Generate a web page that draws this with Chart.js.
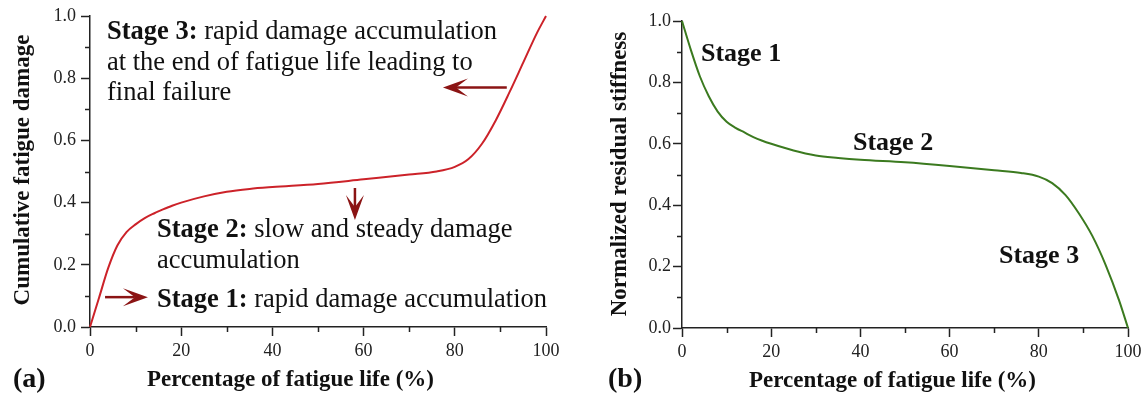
<!DOCTYPE html>
<html>
<head>
<meta charset="utf-8">
<script src="https://cdn.jsdelivr.net/npm/chart.js@4.4.1/dist/chart.umd.min.js"></script>
<style>
  html, body { margin: 0; padding: 0; background: #fff; }
  .panel { position: absolute; top: 0; width: 574px; height: 401px; }
</style>
</head>
<body>
<div class="panel" style="left:0"><canvas id="damageChart" width="574" height="401"></canvas></div>
<div class="panel" style="left:574px"><canvas id="stiffChart" width="574" height="401"></canvas></div>
<script>
// values
const lifePct   = [0, 2, 4, 6, 8, 10, 12, 14, 16, 18, 20, 25, 30, 35, 40, 50, 60, 70, 76, 80, 83, 86, 89, 92, 95, 98, 100];
const damage    = [0, 0.095, 0.19, 0.262, 0.305, 0.33, 0.35, 0.365, 0.378, 0.39, 0.40, 0.42, 0.435, 0.444, 0.45, 0.46, 0.475, 0.49, 0.50, 0.515, 0.54, 0.59, 0.665, 0.755, 0.85, 0.945, 1.0];
const stiffness = [1.0, 0.905, 0.82, 0.755, 0.705, 0.672, 0.652, 0.637, 0.622, 0.61, 0.60, 0.578, 0.562, 0.554, 0.548, 0.54, 0.528, 0.514, 0.505, 0.493, 0.472, 0.433, 0.373, 0.30, 0.205, 0.09, 0.0];

const xMinor = [10, 30, 50, 70, 90];
const yMinor = [0.1, 0.3, 0.5, 0.7, 0.9];

// arrows on panel (a), in data units: [x0, y0, x1, y1]
const damageArrows = [
  [91.4, 0.77, 77.4, 0.77],
  [58.1, 0.447, 58.1, 0.344],
  [3.3, 0.096, 12.7, 0.096]
];

const SERIF = "'Liberation Serif', 'Times New Roman', serif";
const INK = "#111";
const AXIS = "#222";

function pts(ys) {
  return lifePct.map((x, i) => ({ x: x, y: ys[i] }));
}

// draws the short minor ticks that Chart.js has no option for
const minorTicks = {
  id: "minorTicks",
  afterDraw(chart) {
    const { ctx, chartArea, scales } = chart;
    ctx.save();
    ctx.strokeStyle = AXIS;
    ctx.lineWidth = 1.5;
    ctx.beginPath();
    xMinor.forEach(v => {
      const px = Math.round(scales.x.getPixelForValue(v)) + 0.5;
      ctx.moveTo(px, chartArea.bottom);
      ctx.lineTo(px, chartArea.bottom + 5);
    });
    yMinor.forEach(v => {
      const py = Math.round(scales.y.getPixelForValue(v)) + 0.5;
      ctx.moveTo(chartArea.left - 5, py);
      ctx.lineTo(chartArea.left, py);
    });
    ctx.stroke();
    ctx.restore();
  }
};

// text runs: each line is a list of [text, bold]
function drawRuns(ctx, x, y, runs, size) {
  let cx = x;
  runs.forEach(([t, bold]) => {
    ctx.font = (bold ? "bold " : "") + size + "px " + SERIF;
    ctx.fillText(t, cx, y);
    cx += ctx.measureText(t).width;
  });
}

const labelsPlugin = {
  id: "labels",
  afterDraw(chart) {
    const o = chart.options.plugins.labels;
    const ctx = chart.ctx;
    ctx.save();
    ctx.fillStyle = INK;
    ctx.textBaseline = "alphabetic";
    ctx.textAlign = "left";
    o.notes.forEach(n => {
      n.lines.forEach((line, i) => drawRuns(ctx, n.x, n.y + i * n.gap, line, n.size));
    });
    // panel letter and x title
    drawRuns(ctx, o.letter.x, o.letter.y, [[o.letter.text, true]], 28);
    drawRuns(ctx, o.xTitle.x, o.xTitle.y, [[o.xTitle.text, true]], 23);
    // rotated y title
    ctx.translate(o.yTitle.x, o.yTitle.y);
    ctx.rotate(-Math.PI / 2);
    ctx.textAlign = "center";
    ctx.font = "bold 23px " + SERIF;
    ctx.fillText(o.yTitle.text, 0, 0);
    ctx.restore();
  }
};

const arrowsPlugin = {
  id: "arrows",
  afterDatasetsDraw(chart) {
    const list = chart.options.plugins.arrows.list;
    if (!list) return;
    const { ctx, scales } = chart;
    ctx.save();
    ctx.strokeStyle = "#8b1414";
    ctx.fillStyle = "#8b1414";
    ctx.lineWidth = 2.5;
    list.forEach(([x0, y0, x1, y1]) => {
      const ax = scales.x.getPixelForValue(x0), ay = scales.y.getPixelForValue(y0);
      const bx = scales.x.getPixelForValue(x1), by = scales.y.getPixelForValue(y1);
      const len = Math.hypot(bx - ax, by - ay);
      const ux = (bx - ax) / len, uy = (by - ay) / len;
      const head = 25, half = 9, notch = 13;
      ctx.beginPath();
      ctx.moveTo(ax, ay);
      ctx.lineTo(bx - ux * notch, by - uy * notch);
      ctx.stroke();
      ctx.beginPath();
      ctx.moveTo(bx, by);
      ctx.lineTo(bx - ux * head - uy * half, by - uy * head + ux * half);
      ctx.lineTo(bx - ux * notch, by - uy * notch);
      ctx.lineTo(bx - ux * head + uy * half, by - uy * head - ux * half);
      ctx.closePath();
      ctx.fill();
    });
    ctx.restore();
  }
};

function axisOpts(kind, fit, pad) {
  const isX = kind === "x";
  return {
    type: "linear",
    min: 0,
    max: isX ? 100 : 1,
    afterFit: s => { if (isX) s.height = fit; else s.width = fit; },
    border: { display: true, color: AXIS, width: 1.5 },
    grid: { display: true, drawOnChartArea: false, drawTicks: true, tickLength: 9, tickColor: AXIS, tickWidth: 1.5 },
    ticks: {
      stepSize: isX ? 20 : 0.2,
      padding: pad,
      color: AXIS,
      maxRotation: 0,
      font: { family: SERIF, size: 18 },
      callback: v => isX ? String(v) : v.toFixed(1)
    }
  };
}

function makeChart(id, ys, color, layout, extras) {
  return new Chart(document.getElementById(id), {
    type: "line",
    data: {
      datasets: [{
        data: pts(ys),
        borderColor: color,
        borderWidth: 2,
        pointRadius: 0,
        cubicInterpolationMode: "monotone",
        fill: false,
        clip: false
      }]
    },
    options: {
      responsive: false,
      animation: false,
      devicePixelRatio: 1,
      layout: { padding: layout.padding },
      scales: {
        x: axisOpts("x", layout.xHeight, 4),
        y: axisOpts("y", layout.yWidth, layout.yPad)
      },
      plugins: {
        legend: { display: false },
        tooltip: { enabled: false },
        labels: extras.labels,
        arrows: { list: extras.arrows }
      }
    },
    plugins: [minorTicks, arrowsPlugin, labelsPlugin]
  });
}

makeChart("damageChart", damage, "#cc2229",
  { padding: { left: 0, right: 28, top: 16, bottom: 0 }, xHeight: 74, yWidth: 90, yPad: 5 },
  {
    arrows: damageArrows,
    labels: {
      notes: [
        { x: 107, y: 39, gap: 30.5, size: 26.5, lines: [
          [["Stage 3:", true], [" rapid damage accumulation", false]],
          [["at the end of fatigue life leading to", false]],
          [["final failure", false]]
        ] },
        { x: 157, y: 237, gap: 31, size: 26.5, lines: [
          [["Stage 2:", true], [" slow and steady damage", false]],
          [["accumulation", false]]
        ] },
        { x: 157, y: 307, gap: 0, size: 26.5, lines: [
          [["Stage 1:", true], [" rapid damage accumulation", false]]
        ] }
      ],
      letter: { text: "(a)", x: 13, y: 387 },
      xTitle: { text: "Percentage of fatigue life (%)", x: 147, y: 386 },
      yTitle: { text: "Cumulative fatigue damage", x: 29, y: 170 }
    }
  });

makeChart("stiffChart", stiffness, "#3b7a1f",
  { padding: { left: 0, right: 20, top: 21, bottom: 0 }, xHeight: 73, yWidth: 108, yPad: 2 },
  {
    arrows: null,
    labels: {
      notes: [
        { x: 127, y: 61, gap: 0, size: 26, lines: [[["Stage 1", true]]] },
        { x: 279, y: 150, gap: 0, size: 26, lines: [[["Stage 2", true]]] },
        { x: 425, y: 263, gap: 0, size: 26, lines: [[["Stage 3", true]]] }
      ],
      letter: { text: "(b)", x: 34, y: 387 },
      xTitle: { text: "Percentage of fatigue life (%)", x: 175, y: 387 },
      yTitle: { text: "Normalized residual stiffness", x: 52, y: 174 }
    }
  });
</script>
</body>
</html>
